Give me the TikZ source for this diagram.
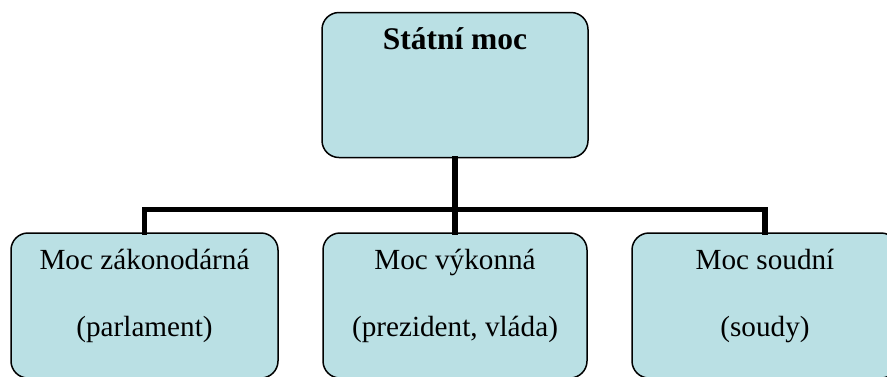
\documentclass[tikz,border=0pt]{standalone}
\usepackage{fontspec}
\setmainfont{Liberation Serif}
\usetikzlibrary{calc}
\definecolor{boxfill}{RGB}{186,224,228}
\tikzset{
  box/.style={draw=black, line width=1.5pt, fill=boxfill, rounded corners=17pt,
    minimum width=#1, minimum height=145pt, inner sep=0pt},
  box/.default=266pt,
  conn/.style={draw=black, line width=5.5pt, line join=miter, line cap=rect},
  txt/.style={anchor=base, inner sep=0pt, font=\fontsize{29.2}{34}\selectfont},
  ttl/.style={anchor=base, inner sep=0pt, font=\fontsize{31.5}{36}\selectfont\bfseries}
}
\begin{document}
\begin{tikzpicture}[x=1pt,y=-1pt]
\useasboundingbox (0,0) rectangle (887,376);
\clip (0,0) rectangle (887,376);
\node[box] (T) at (455,85) {};
\node[box=267pt] (L) at (144.5,305.5) {};
\node[box=264pt] (M) at (455,305.5) {};
\node[box] (R) at (765,305.5) {};
\coordinate (bus) at (455,209.5);
\draw[conn] (L.north) |- (bus) -| (R.north);
\draw[conn] (T.south) -- (M.north);
\node[ttl] (Tt) at ($(T.north)+(0,38)$) {Státní moc};
\node[txt] (L1) at ($(L.north)+(0,37)$) {Moc zákonodárná};
\node[txt] (L2) at ($(L.north)+(0,104)$) {(parlament)};
\node[txt] (M1) at ($(M.north)+(0,37)$) {Moc výkonná};
\node[txt] (M2) at ($(M.north)+(0,104)$) {(prezident, vláda)};
\node[txt] (R1) at ($(R.north)+(0,37)$) {Moc soudní};
\node[txt] (R2) at ($(R.north)+(0,104)$) {(soudy)};
\end{tikzpicture}
\end{document}
